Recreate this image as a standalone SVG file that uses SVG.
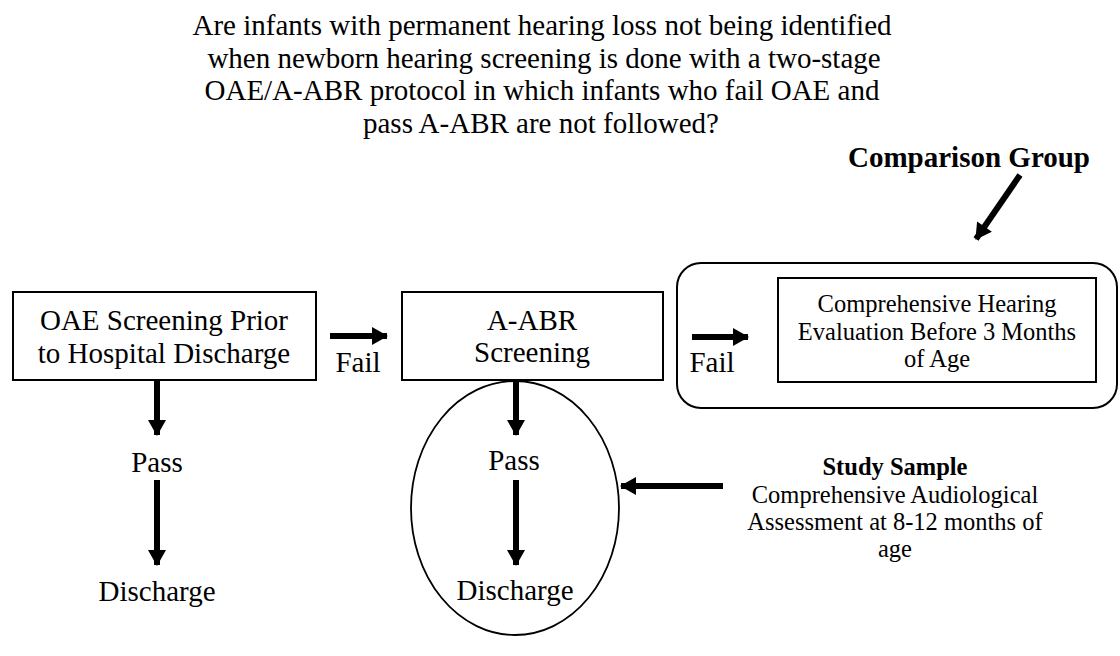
<svg xmlns="http://www.w3.org/2000/svg" width="1120" height="656" viewBox="0 0 1120 656">
<style>
text{font-family:"Liberation Serif","Times New Roman",serif;fill:#000}
.t{font-size:29px;text-anchor:middle}
.s{font-size:24.5px;text-anchor:middle}
.b{font-weight:bold}
.box{fill:#fff;stroke:#000;stroke-width:2}
.conn{stroke:#000;stroke-width:6;fill:none}
</style>
<defs>
<marker id="ah" markerUnits="userSpaceOnUse" markerWidth="18" markerHeight="18" viewBox="0 0 16 18" refX="15" refY="9" orient="auto">
<path d="M0,0 L16,9 L0,18 Z" fill="#000"/>
</marker>
</defs>
<rect width="1120" height="656" fill="#fff"/>
<g id="title">
<text class="t" x="542" y="35">Are infants with permanent hearing loss not being identified</text>
<text class="t" x="544" y="68">when newborn hearing screening is done with a two-stage</text>
<text class="t" x="542" y="100">OAE/A-ABR protocol in which infants who fail OAE and</text>
<text class="t" x="541" y="133">pass A-ABR are not followed?</text>
</g>
<g id="comparison-label">
<text class="t b" x="969" y="167">Comparison Group</text>
</g>
<g id="comparison-group">
<rect class="box" x="677" y="263" width="440" height="145" rx="24"/>
</g>
<g id="oae">
<rect class="box" x="13" y="292" width="303" height="88"/>
<text class="t" x="164" y="330">OAE Screening Prior</text>
<text class="t" x="164" y="363">to Hospital Discharge</text>
</g>
<g id="aabr">
<rect class="box" x="402" y="292" width="261" height="88"/>
<text class="t" x="532" y="330">A-ABR</text>
<text class="t" x="532" y="362">Screening</text>
</g>
<g id="evaluation">
<rect class="box" x="778" y="278" width="318" height="104"/>
<text class="s" x="937" y="312">Comprehensive Hearing</text>
<text class="s" x="937" y="340">Evaluation Before 3 Months</text>
<text class="s" x="937" y="367">of Age</text>
</g>
<g id="study-sample">
<ellipse cx="515" cy="508" rx="104" ry="127" fill="none" stroke="#000" stroke-width="1.8"/>
</g>
<g id="study-label">
<text class="s b" x="895" y="475">Study Sample</text>
<text class="s" x="895" y="503">Comprehensive Audiological</text>
<text class="s" x="895" y="530">Assessment at 8-12 months of</text>
<text class="s" x="895" y="557">age</text>
</g>
<g id="labels">
<text class="t" x="358" y="372">Fail</text>
<text class="t" x="712" y="372">Fail</text>
<text class="t" x="157" y="472">Pass</text>
<text class="t" x="157" y="601">Discharge</text>
<text class="t" x="514" y="470">Pass</text>
<text class="t" x="515" y="600">Discharge</text>
</g>
<g id="connectors">
<line class="conn" x1="157" y1="381" x2="157" y2="435" marker-end="url(#ah)"/>
<line class="conn" x1="157" y1="480" x2="157" y2="565" marker-end="url(#ah)"/>
<line class="conn" x1="330" y1="336" x2="387" y2="336" marker-end="url(#ah)"/>
<line class="conn" x1="516" y1="381" x2="516" y2="435" marker-end="url(#ah)"/>
<line class="conn" x1="516" y1="480" x2="516" y2="565" marker-end="url(#ah)"/>
<line class="conn" x1="692" y1="337" x2="748" y2="337" marker-end="url(#ah)"/>
<line class="conn" x1="723" y1="486" x2="621" y2="486" marker-end="url(#ah)"/>
<line class="conn" x1="1020" y1="175" x2="976" y2="239" marker-end="url(#ah)"/>
</g>
</svg>
